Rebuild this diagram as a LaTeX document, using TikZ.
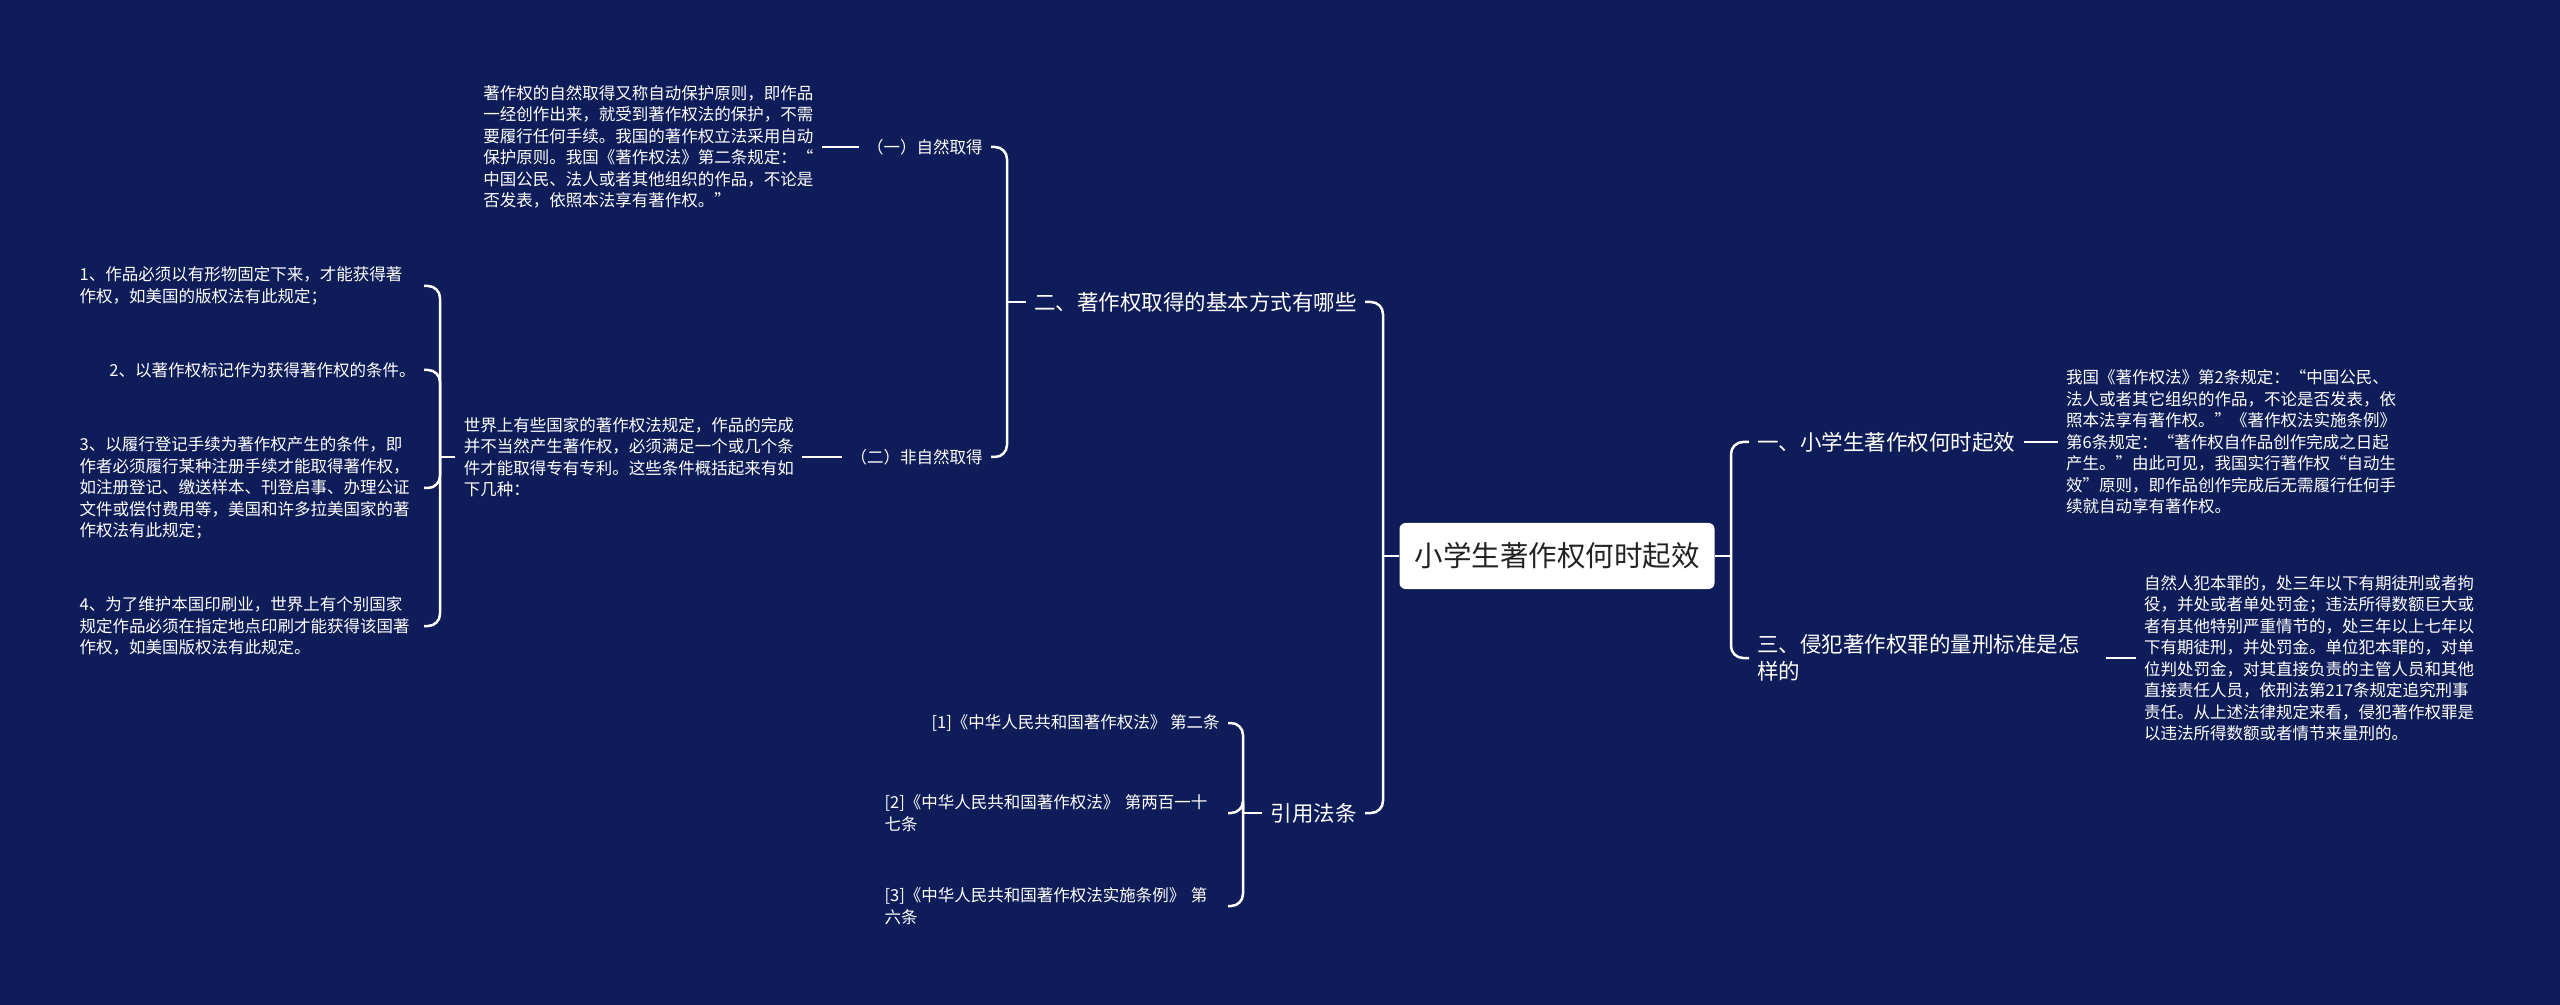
\documentclass[tikz,border=0pt]{standalone}
\usepackage{fontspec}
\newfontfamily\cjk{Noto Sans CJK SC}
\usepackage{tikz}
\usetikzlibrary{positioning}
\definecolor{navy}{HTML}{0E1D59}
\definecolor{rootink}{HTML}{222222}

\begin{document}
\begin{tikzpicture}[
    x=0.5pt, y=-0.5pt,
    every node/.style={font=\cjk, text=white, inner xsep=4pt, inner ysep=2pt},
    rootbox/.style={fill=white, rounded corners=3pt, text=rootink, font=\cjk\fontsize{14.25}{17}\selectfont, minimum width=157.5pt, minimum height=33pt},
    branch/.style={font=\cjk\fontsize{10.75}{13.5}\selectfont, align=left},
    sub/.style={font=\cjk\fontsize{8.25}{10.75}\selectfont, align=left},
    leaf/.style={sub},
    wideleaf/.style={sub, text width=168pt},
    link/.style={draw=white, line width=1.25pt},
    elbow/.style={link, rounded corners=6pt}
]

% --- Background & frame ---
\fill[navy] (0,0) rectangle (2560,1005);

% --- Root ---
\node[rootbox] (root) at (1557,556) {小学生著作权何时起效};

% --- Right side: branches one and three ---
\node[branch, anchor=west] (b1) at (1749,442) {一、小学生著作权何时起效};
\node[leaf, right=17pt of b1] (r1) {我国《著作权法》第2条规定：“中国公民、\\
法人或者其它组织的作品，不论是否发表，依\\
照本法享有著作权。”《著作权法实施条例》\\
第6条规定：“著作权自作品创作完成之日起\\
产生。”由此可见，我国实行著作权“自动生\\
效”原则，即作品创作完成后无需履行任何手\\
续就自动享有著作权。};
\node[branch, anchor=west, text width=170pt] (b3) at (1749,658) {三、侵犯著作权罪的量刑标准是怎\\样的};
\node[leaf, right=15pt of b3] (r3) {自然人犯本罪的，处三年以下有期徒刑或者拘\\
役，并处或者单处罚金；违法所得数额巨大或\\
者有其他特别严重情节的，处三年以上七年以\\
下有期徒刑，并处罚金。单位犯本罪的，对单\\
位判处罚金，对其直接负责的主管人员和其他\\
直接责任人员，依刑法第217条规定追究刑事\\
责任。从上述法律规定来看，侵犯著作权罪是\\
以违法所得数额或者情节来量刑的。};

% --- Left side: branch two ---
\node[branch, anchor=east] (b2) at (1365,302) {二、著作权取得的基本方式有哪些};
\node[sub, anchor=east] (c1) at (991,147) {（一）自然取得};
\node[leaf, left=18.5pt of c1] (l1) {著作权的自然取得又称自动保护原则，即作品\\
一经创作出来，就受到著作权法的保护，不需\\
要履行任何手续。我国的著作权立法采用自动\\
保护原则。我国《著作权法》第二条规定：“\\
中国公民、法人或者其他组织的作品，不论是\\
否发表，依照本法享有著作权。”};
\node[sub, anchor=east] (c2) at (991,457) {（二）非自然取得};
\node[leaf, left=20pt of c2] (l2) {世界上有些国家的著作权法规定，作品的完成\\
并不当然产生著作权，必须满足一个或几个条\\
件才能取得专有专利。这些条件概括起来有如\\
下几种：};

% --- Conditions under (二) ---
\node[wideleaf, anchor=east] (g1) at (424,286) {1、作品必须以有形物固定下来，才能获得著\\
作权，如美国的版权法有此规定；};
\node[leaf, anchor=east] (g2) at (424,370) {2、以著作权标记作为获得著作权的条件。};
\node[wideleaf, anchor=east] (g3) at (424,488) {3、以履行登记手续为著作权产生的条件，即\\
作者必须履行某种注册手续才能取得著作权，\\
如注册登记、缴送样本、刊登启事、办理公证\\
文件或偿付费用等，美国和许多拉美国家的著\\
作权法有此规定；};
\node[wideleaf, anchor=east] (g4) at (424,626) {4、为了维护本国印刷业，世界上有个别国家\\
规定作品必须在指定地点印刷才能获得该国著\\
作权，如美国版权法有此规定。};

% --- Left side: cited laws ---
\node[branch, anchor=east] (b4) at (1365,813) {引用法条};
\node[leaf, anchor=east] (d1) at (1228,723) {[1]《中华人民共和国著作权法》 第二条};
\node[wideleaf, anchor=east, text width=167.5pt] (d2) at (1228,813) {[2]《中华人民共和国著作权法》 第两百一十\\七条};
\node[wideleaf, anchor=east, text width=167.5pt] (d3) at (1228,906) {[3]《中华人民共和国著作权法实施条例》 第\\六条};

% --- Junctions ---
\coordinate (jr) at (1731,556);
\coordinate (jl) at (1383,556);
\coordinate (j2) at (1007,302);
\coordinate (j3) at (440,457);
\coordinate (j4) at (1243,813);

% --- Edges: root ---
\draw[link] (root.east) -- (jr);
\draw[elbow] (jr) |- (b1.west);
\draw[elbow] (jr) |- (b3.west);
\draw[link] (root.west) -- (jl);
\draw[elbow] (jl) |- (b2.east);
\draw[elbow] (jl) |- (b4.east);

% --- Edges: right leaves ---
\draw[link] (b1.east) -- (r1.west);
\draw[link] (b3.east) -- (r3.west);

% --- Edges: branch two ---
\draw[link] (b2.west) -- (j2);
\draw[elbow] (j2) |- (c1.east);
\draw[elbow] (j2) |- (c2.east);
\draw[link] (c1.west) -- (l1.east);
\draw[link] (c2.west) -- (l2.east);
\draw[link] (l2.west) -- (j3);
\foreach \g in {g1,g2,g3,g4}
    \draw[elbow] (j3) |- (\g.east);

% --- Edges: cited laws ---
\draw[link] (b4.west) -- (j4);
\foreach \d in {d1,d2,d3}
    \draw[elbow] (j4) |- (\d.east);

\end{tikzpicture}
\end{document}
